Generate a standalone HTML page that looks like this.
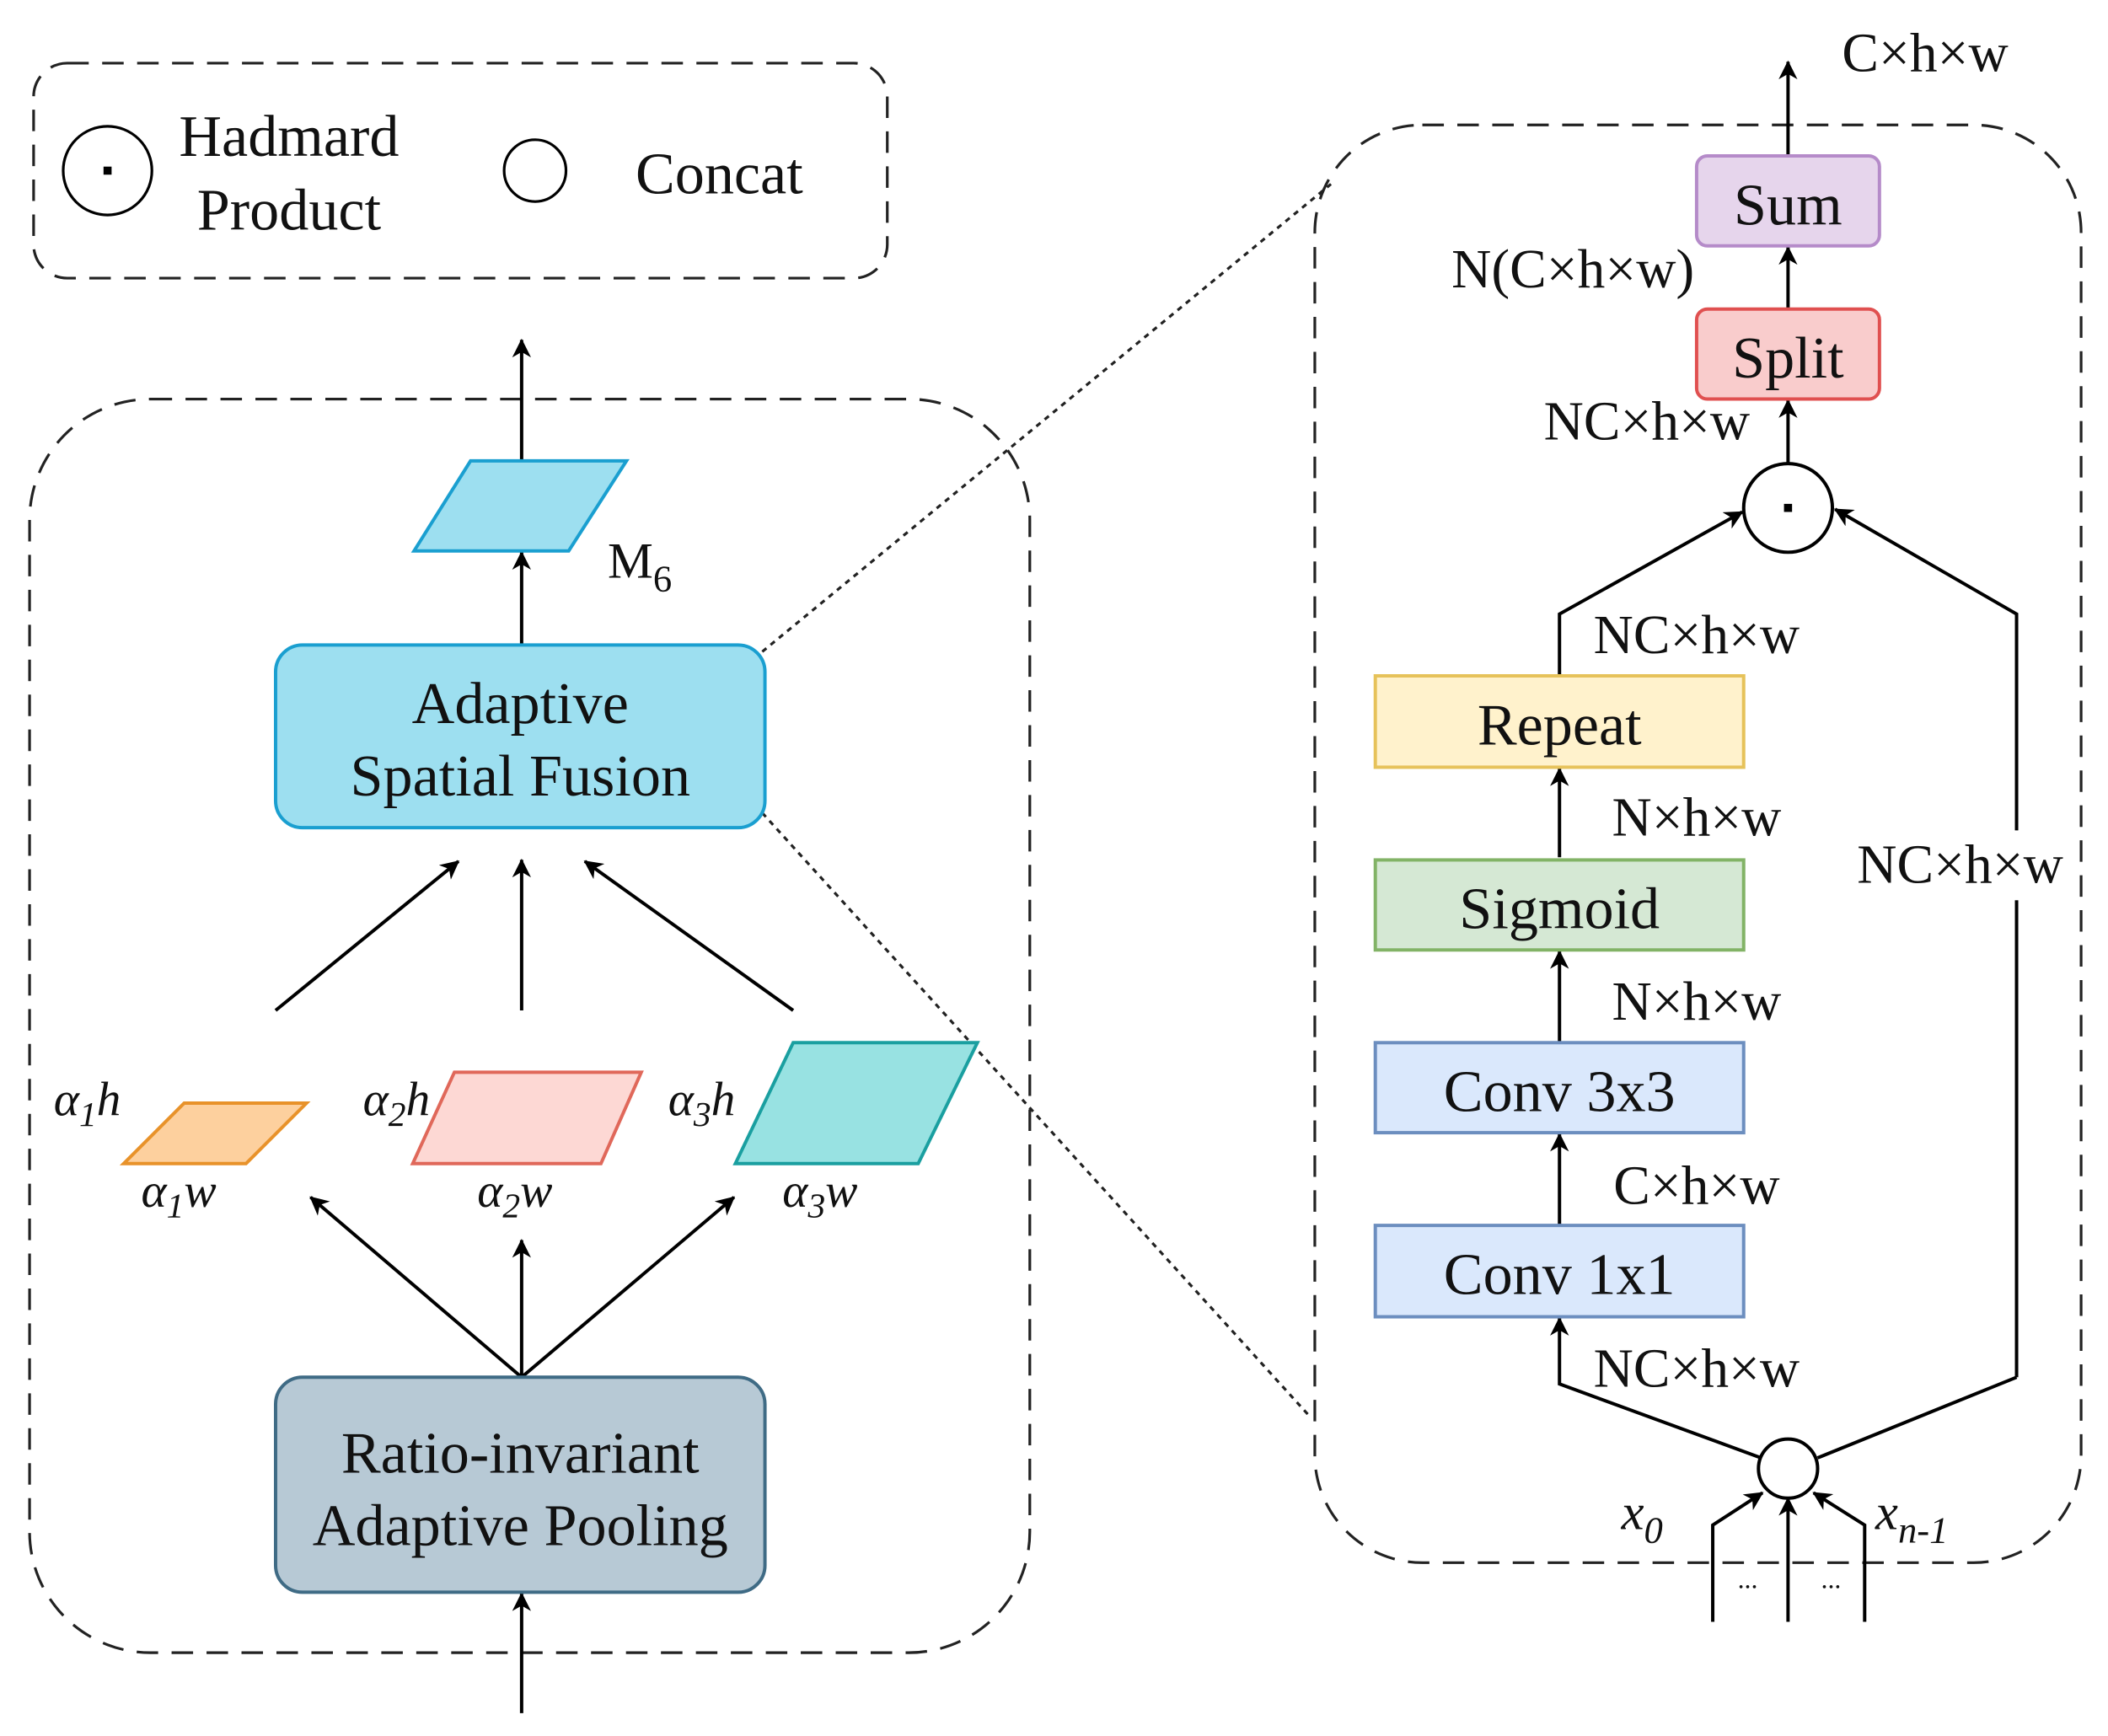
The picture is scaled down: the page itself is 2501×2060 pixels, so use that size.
<!DOCTYPE html>
<html><head><meta charset="utf-8"><style>
html,body{margin:0;padding:0;background:#fff;}
svg{display:block;}
text{font-family:"Liberation Serif",serif;fill:#111;}
</style></head><body>
<svg width="2501" height="2060" viewBox="0 0 1568 1292" preserveAspectRatio="none" xmlns="http://www.w3.org/2000/svg">
<defs>
<marker id="a" markerWidth="14" markerHeight="14" refX="13" refY="7" orient="auto" markerUnits="userSpaceOnUse" viewBox="0 0 14 14">
<path d="M0,0 L14,7 L0,14 L4,7 z" fill="#000"/></marker>
</defs>
<g fill="none" stroke="#222" stroke-width="2" stroke-dasharray="16,10">
<rect x="25" y="47" width="635" height="160" rx="25"/>
<rect x="22" y="297" width="744" height="933" rx="90"/>
<rect x="978" y="93" width="570" height="1070" rx="80"/>
</g>
<g fill="none" stroke="#222" stroke-width="2" stroke-dasharray="4,4">
<line x1="567" y1="485" x2="990" y2="137"/>
<line x1="567" y1="605" x2="975" y2="1055"/>
</g>
<circle cx="80" cy="127" r="33" fill="none" stroke="#000" stroke-width="2"/>
<rect x="77" y="124" width="6" height="6" fill="#000"/>
<text x="215" y="116" font-size="44" text-anchor="middle">Hadmard</text>
<text x="215" y="171" font-size="44" text-anchor="middle">Product</text>
<circle cx="398" cy="127" r="23" fill="none" stroke="#000" stroke-width="2"/>
<text x="535" y="144" font-size="44" text-anchor="middle">Concat</text>
<g stroke="#000" stroke-width="2.5" fill="none" marker-end="url(#a)">
<line x1="388" y1="345" x2="388" y2="253"/>
<line x1="388" y1="480" x2="388" y2="411"/>
<line x1="205" y1="752" x2="341" y2="641"/>
<line x1="388" y1="752" x2="388" y2="640"/>
<line x1="590" y1="752" x2="435" y2="641"/>
<line x1="388" y1="1025" x2="231" y2="891"/>
<line x1="388" y1="1025" x2="388" y2="923"/>
<line x1="388" y1="1025" x2="546" y2="891"/>
<line x1="388" y1="1275" x2="388" y2="1186"/>
</g>
<polygon points="350,343 466,343 423,410 308,410" fill="#9ddff0" stroke="#1a9fd0" stroke-width="2.5"/>
<text x="452" y="430" font-size="38">M<tspan font-size="28" dy="10">6</tspan></text>
<rect x="205" y="480" width="364" height="136" rx="20" fill="#9ddff0" stroke="#1a9fd0" stroke-width="2.5"/>
<text x="387" y="538" font-size="44" text-anchor="middle">Adaptive</text>
<text x="387" y="592" font-size="44" text-anchor="middle">Spatial Fusion</text>
<polygon points="137,821 228,821 183,866 92,866" fill="#fdd09e" stroke="#e8922a" stroke-width="2.5"/>
<polygon points="338,798 477,798 447,866 307,866" fill="#fdd8d4" stroke="#e0685a" stroke-width="2.5"/>
<polygon points="590,776 727,776 683,866 547,866" fill="#98e2e2" stroke="#1a9fa0" stroke-width="2.5"/>
<g font-size="36" font-style="italic">
<text x="40" y="830">α<tspan font-size="26" dy="8">1</tspan><tspan dy="-8">h</tspan></text>
<text x="105" y="898">α<tspan font-size="26" dy="8">1</tspan><tspan dy="-8">w</tspan></text>
<text x="270" y="830">α<tspan font-size="26" dy="8">2</tspan><tspan dy="-8">h</tspan></text>
<text x="355" y="898">α<tspan font-size="26" dy="8">2</tspan><tspan dy="-8">w</tspan></text>
<text x="497" y="830">α<tspan font-size="26" dy="8">3</tspan><tspan dy="-8">h</tspan></text>
<text x="582" y="898">α<tspan font-size="26" dy="8">3</tspan><tspan dy="-8">w</tspan></text>
</g>
<rect x="205" y="1025" width="364" height="160" rx="20" fill="#b7c9d5" stroke="#3f6b85" stroke-width="2.5"/>
<text x="387" y="1096" font-size="44" text-anchor="middle">Ratio-invariant</text>
<text x="387" y="1150" font-size="44" text-anchor="middle">Adaptive Pooling</text>
<g stroke="#000" stroke-width="2.5" fill="none" marker-end="url(#a)">
<line x1="1330" y1="115" x2="1330" y2="46"/>
<line x1="1330" y1="230" x2="1330" y2="184"/>
<line x1="1330" y1="345" x2="1330" y2="298"/>
<polyline points="1160,502 1160,457 1296,381"/>
<polyline points="1500,1025 1500,457 1365,379"/>
<line x1="1160" y1="638" x2="1160" y2="572"/>
<line x1="1160" y1="775" x2="1160" y2="708"/>
<line x1="1160" y1="912" x2="1160" y2="844"/>
<polyline points="1310,1085 1160,1030 1160,981"/>
<polyline points="1274,1207 1274,1135 1311,1111"/>
<line x1="1330" y1="1207" x2="1330" y2="1115"/>
<polyline points="1387,1207 1387,1135 1349,1111"/>
</g>
<line x1="1352" y1="1085" x2="1500" y2="1025" stroke="#000" stroke-width="2.5"/>
<rect x="1262" y="116" width="136" height="67" rx="8" fill="#e6d5ec" stroke="#b58bc9" stroke-width="2.5"/>
<text x="1330" y="167" font-size="44" text-anchor="middle">Sum</text>
<rect x="1262" y="230" width="136" height="67" rx="8" fill="#f9cccc" stroke="#e05050" stroke-width="2.5"/>
<text x="1330" y="281" font-size="44" text-anchor="middle">Split</text>
<circle cx="1330" cy="378" r="33" fill="#fff" stroke="#000" stroke-width="2.5"/>
<rect x="1327" y="375" width="6" height="6" fill="#000"/>
<rect x="1023" y="503" width="274" height="68" fill="#fff2cc" stroke="#e6c25a" stroke-width="2.5"/>
<text x="1160" y="554" font-size="44" text-anchor="middle">Repeat</text>
<rect x="1023" y="640" width="274" height="67" fill="#d5e8d4" stroke="#82b366" stroke-width="2.5"/>
<text x="1160" y="691" font-size="44" text-anchor="middle">Sigmoid</text>
<rect x="1023" y="776" width="274" height="67" fill="#dae8fc" stroke="#6c8ebf" stroke-width="2.5"/>
<text x="1160" y="827" font-size="44" text-anchor="middle">Conv 3x3</text>
<rect x="1023" y="912" width="274" height="68" fill="#dae8fc" stroke="#6c8ebf" stroke-width="2.5"/>
<text x="1160" y="963" font-size="44" text-anchor="middle">Conv 1x1</text>
<circle cx="1330" cy="1093" r="22" fill="#fff" stroke="#000" stroke-width="2.5"/>
<g font-size="41" text-anchor="middle">
<text x="1432" y="53">C×h×w</text>
<text x="1170" y="214">N(C×h×w)</text>
<text x="1225" y="327">NC×h×w</text>
<text x="1262" y="486">NC×h×w</text>
<text x="1262" y="622">N×h×w</text>
<text x="1262" y="759">N×h×w</text>
<text x="1262" y="896">C×h×w</text>
<text x="1262" y="1032">NC×h×w</text>
</g>
<rect x="1374" y="618" width="168" height="52" fill="#fff"/>
<text x="1458" y="657" font-size="41" text-anchor="middle">NC×h×w</text>
<text x="1300" y="1182" font-size="20" text-anchor="middle">...</text>
<text x="1362" y="1182" font-size="20" text-anchor="middle">...</text>
<text x="1206" y="1138" font-size="38" font-style="italic">x<tspan font-size="28" dy="10">0</tspan></text>
<text x="1395" y="1138" font-size="38" font-style="italic">x<tspan font-size="28" dy="10">n-1</tspan></text>
</svg>
</body></html>
